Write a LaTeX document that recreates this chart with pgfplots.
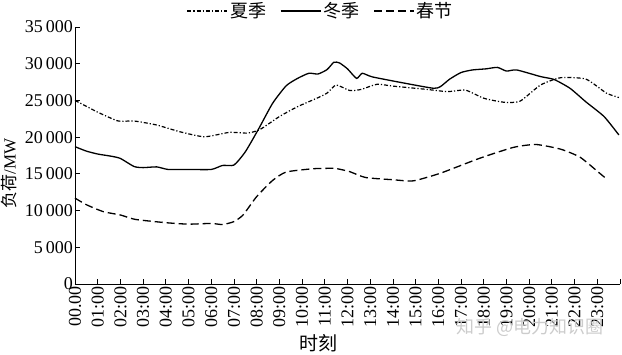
\documentclass[border=0pt]{standalone}
\usepackage{fontspec}
\setmainfont{Liberation Serif}
\newfontfamily\cjk{Noto Sans CJK SC}
\usepackage{pgfplots}
\pgfplotsset{compat=1.18}
\begin{document}
\begin{tikzpicture}
\useasboundingbox (-75pt,-70pt) rectangle (547pt,284pt);
\begin{axis}[
  scale only axis, width=545pt, height=257pt,
  xmin=0, xmax=24, ymin=0, ymax=35000,
  clip=false,
  axis lines=left, axis line style={-, line width=0.8pt},
  tick align=inside, major tick length=5pt,
  tick style={line width=0.8pt, black},
  xtick={0,...,24},
  xticklabels={00.00,01:00,02:00,03:00,04:00,05:00,06:00,07:00,08:00,09:00,10:00,11:00,12:00,13:00,14:00,15:00,16:00,17:00,18:00,19:00,20:00,21:00,22:00,23:00,},
  xticklabel style={rotate=90, anchor=east, inner sep=2pt, font=\fontsize{18}{20}\selectfont},
  ytick={0,5000,...,35000},
  yticklabel style={font=\fontsize{18}{20}\selectfont, inner sep=2pt},
  /pgf/number format/assume math mode=true,
  /pgf/number format/1000 sep={\,},
  scaled y ticks=false,
  xlabel={\cjk 时刻},
  xlabel style={at={(rel axis cs:0.446,0)}, anchor=center, yshift=-59pt, font=\fontsize{19}{21}\selectfont},
  ylabel={{\cjk 负荷}/MW},
  ylabel style={at={(rel axis cs:-0.121,0.43)}, anchor=center, font=\fontsize{17}{19}\selectfont},
  legend columns=3,
  legend style={draw=none, fill=none, at={(rel axis cs:0.451,1)}, anchor=center, yshift=16pt, font=\fontsize{18}{20}\selectfont, /tikz/every even column/.append style={column sep=12pt}},
  legend image code/.code={\draw[#1] (0pt,0pt) -- (40pt,0pt);},
]
\addplot[black, line width=1.2pt, smooth, tension=0.35, dash pattern=on 4pt off 2pt on 1.2pt off 2pt] coordinates {
(0,25000) (0.5,24200) (1.0,23400) (1.9,22200) (2.6,22200) (3.6,21650) (4.6,20750) (5.7,20050) (6.8,20650) (7.6,20550) (8.15,21050) (9.0,22800) (9.8,24150) (10.65,25300) (11.1,26000) (11.5,27100) (12.1,26350) (12.6,26500) (13.3,27200) (14.0,26950) (15.5,26500) (16.4,26200) (17.2,26400) (18.0,25300) (18.9,24750) (19.6,24900) (20.5,27100) (21.4,28100) (22.5,27900) (23.4,26000) (23.95,25400)
};
\addlegendentry{\cjk 夏季}
\addplot[black, line width=1.3pt, smooth, tension=0.35] coordinates {
(0,18700) (0.5,18100) (1.0,17700) (1.6,17400) (2.0,17100) (2.6,16000) (3.0,15850) (3.6,15950) (4.1,15600) (5.0,15600) (6.0,15600) (6.5,16150) (7.0,16200) (7.5,18000) (8.1,21200) (8.7,24600) (9.3,27000) (9.8,28000) (10.3,28700) (10.7,28600) (11.1,29200) (11.4,30200) (11.65,30100) (12.0,29300) (12.4,28000) (12.65,28700) (13.1,28200) (14.6,27300) (15.8,26650) (16.1,26900) (16.5,27900) (17.0,28800) (17.5,29150) (18.1,29300) (18.6,29500) (19.0,29000) (19.45,29150) (20.5,28250) (21.1,27850) (21.8,26650) (22.5,24800) (23.3,22800) (23.95,20300)
};
\addlegendentry{\cjk 冬季}
\addplot[black, line width=1.3pt, smooth, tension=0.35, dash pattern=on 8pt off 4pt] coordinates {
(0,11700) (0.5,10800) (1.25,9850) (2.0,9400) (2.65,8800) (4.0,8350) (5.0,8150) (6.0,8250) (6.5,8100) (7.0,8500) (7.4,9400) (8.0,11900) (8.7,14100) (9.3,15250) (10.5,15700) (11.4,15750) (11.7,15600) (12.1,15300) (12.8,14500) (14.0,14200) (14.9,14050) (16.1,15100) (17.8,17100) (19.3,18600) (20.3,19000) (21.4,18350) (22.25,17250) (23.1,15100) (23.45,14200)
};
\addlegendentry{\cjk 春节}
\node[text=gray!40, font=\cjk\fontsize{18}{20}\selectfont, anchor=center] at (rel axis cs:0.835,-0.17) {知乎 @电力知识圈};
\end{axis}
\end{tikzpicture}
\end{document}
